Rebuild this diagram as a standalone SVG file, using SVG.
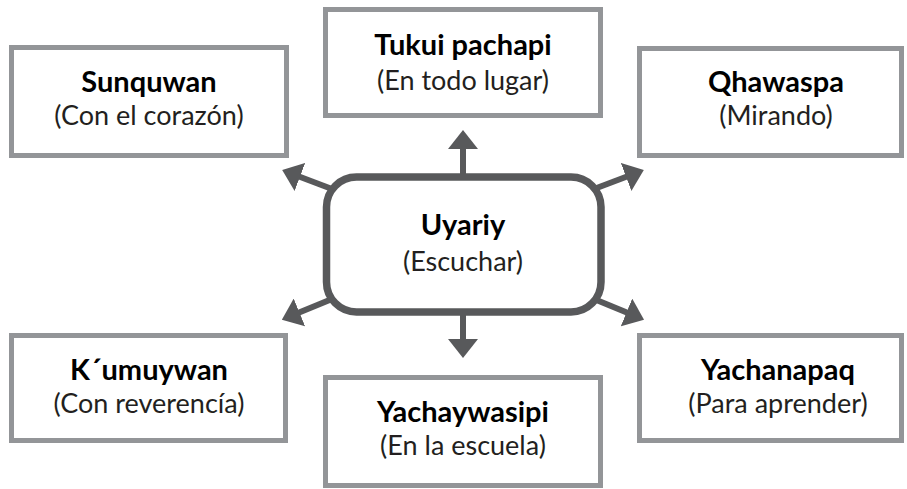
<svg xmlns="http://www.w3.org/2000/svg" width="907" height="489" viewBox="0 0 907 489">
  <defs>
    <style>
      .box { fill: #ffffff; stroke: #939598; stroke-width: 5; }
      .center { fill: #ffffff; stroke: #58595b; stroke-width: 7.5; }
      .conn { stroke: #58595b; stroke-width: 6; fill: none; }
      .t { font-family: Lato, "Open Sans", "Liberation Sans", sans-serif; font-weight: 700; font-size: 29px; fill: #000000; text-anchor: middle; }
      .s { font-family: Lato, "Open Sans", "Liberation Sans", sans-serif; font-weight: 400; font-size: 27px; fill: #231f20; text-anchor: middle; }
    </style>
    <marker id="ah" markerUnits="userSpaceOnUse" markerWidth="19" markerHeight="30" viewBox="0 0 19 30" refX="1" refY="15" orient="auto">
      <path d="M0,0 L19,15 L0,30 Z" fill="#58595b"/>
    </marker>
  </defs>
  <rect width="907" height="489" fill="#ffffff"/>

  <g id="connectors">
    <line class="conn" x1="463" y1="176" x2="463" y2="148" marker-end="url(#ah)"/>
    <line class="conn" x1="463" y1="312" x2="463" y2="340" marker-end="url(#ah)"/>
    <line class="conn" x1="332" y1="189" x2="299" y2="176.5" marker-end="url(#ah)"/>
    <line class="conn" x1="594" y1="189" x2="627" y2="176.5" marker-end="url(#ah)"/>
    <line class="conn" x1="332" y1="299" x2="298.5" y2="312.8" marker-end="url(#ah)"/>
    <line class="conn" x1="594" y1="299" x2="627.4" y2="312.8" marker-end="url(#ah)"/>
  </g>

  <g id="uyariy">
    <rect class="center" x="326.5" y="177" width="274.5" height="135" rx="30" ry="30"/>
    <text class="t" x="463" y="235">Uyariy</text>
    <text class="s" x="463" y="271">(Escuchar)</text>
  </g>

  <g id="tukui">
    <rect class="box" x="325.5" y="9.5" width="275" height="106"/>
    <text class="t" x="463" y="55">Tukui pachapi</text>
    <text class="s" x="463" y="90">(En todo lugar)</text>
  </g>

  <g id="sunquwan">
    <rect class="box" x="11.5" y="47.5" width="275" height="108"/>
    <text class="t" x="149" y="92">Sunquwan</text>
    <text class="s" x="149" y="125">(Con el corazón)</text>
  </g>

  <g id="qhawaspa">
    <rect class="box" x="639.5" y="48.5" width="262" height="107"/>
    <text class="t" x="776" y="92">Qhawaspa</text>
    <text class="s" x="776" y="125">(Mirando)</text>
  </g>

  <g id="kumuywan">
    <rect class="box" x="11.5" y="335.5" width="274" height="105"/>
    <text class="t" x="149" y="380">K´umuywan</text>
    <text class="s" x="149" y="413">(Con reverencía)</text>
  </g>

  <g id="yachaywasipi">
    <rect class="box" x="325.5" y="377.5" width="275" height="108"/>
    <text class="t" x="463" y="422">Yachaywasipi</text>
    <text class="s" x="463" y="455">(En la escuela)</text>
  </g>

  <g id="yachanapaq">
    <rect class="box" x="639.5" y="335.5" width="262" height="105"/>
    <text class="t" x="778" y="380">Yachanapaq</text>
    <text class="s" x="778" y="413">(Para aprender)</text>
  </g>
</svg>
